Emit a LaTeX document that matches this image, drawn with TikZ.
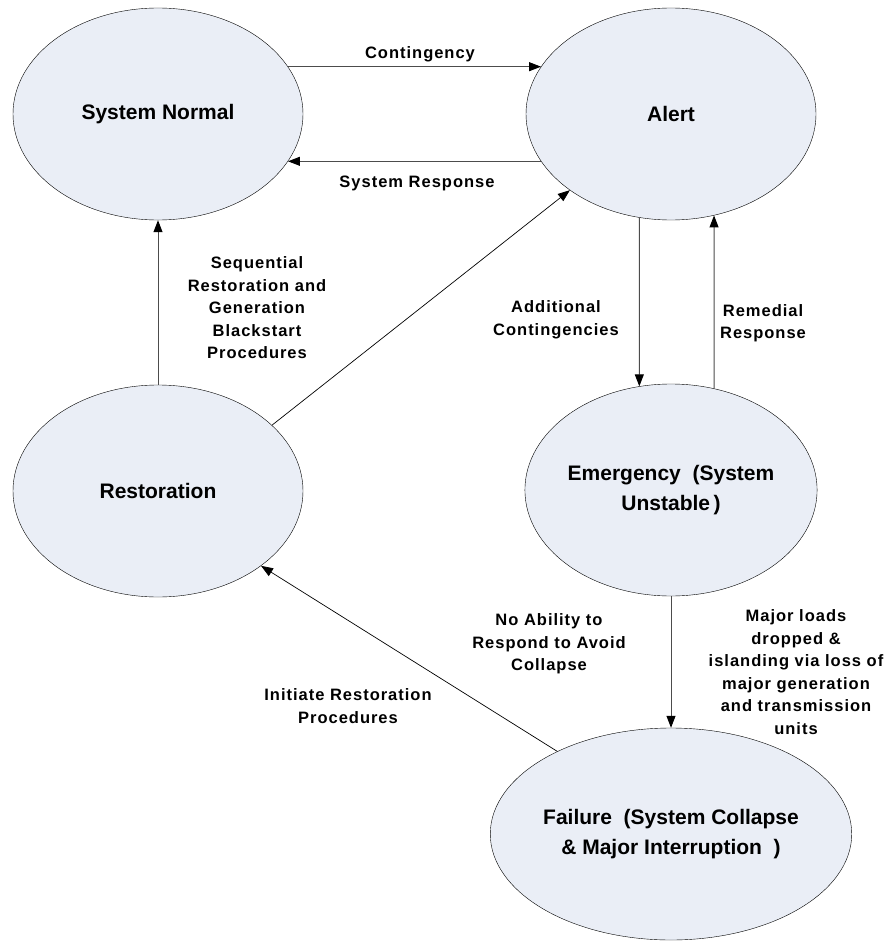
\documentclass[tikz,border=0pt]{standalone}
\usepackage{fontspec}
\setmainfont{Liberation Sans}
\newfontfamily\lblfont[LetterSpace=6]{Liberation Sans}
\usetikzlibrary{arrows.meta, shapes.geometric}
\definecolor{statefill}{RGB}{234,238,246}

\begin{document}
\begin{tikzpicture}[
  x=1pt, y=-1pt,
  state/.style={draw, ellipse, fill=statefill, minimum width=290pt, minimum height=212pt, inner sep=0pt, align=center, font=\fontsize{21}{30}\selectfont\bfseries},
  lbl/.style={align=center, font=\lblfont\fontsize{16.5}{22.5}\selectfont\bfseries},
  arrow/.style={-{Triangle[width=9pt,length=12pt,color=black]}, line width=1pt, draw=black!70},
  diag/.style={line width=0.7pt, draw=black}
]
\useasboundingbox (0,0) rectangle (883,941);

% States
\node[state] (normal) at (158,114) {System Normal};
\node[state] (alert) at (671,114) {Alert};
\node[state] (restore) at (158,491) {Restoration};
\node[state] (emerg) at (671,490) {Emergency\ \ (System\\Unstable\,)};
\node[state] (fail) at (671,834) {Failure\ \ (System Collapse\\\& Major Interruption\ \ )};

% Transitions
\draw[arrow] (normal.20) -- (alert.160);
\draw[arrow] (alert.200) -- (normal.-20);
\draw[arrow] (alert.-107.7) -- (emerg.107.7);
\draw[arrow] (emerg.67.5) -- (alert.-67.5);
\draw[arrow] (restore) -- (normal);
\draw[arrow, diag] (restore.30.5) -- (alert.217.7);
\draw[arrow] (emerg) -- (fail);
\draw[arrow, diag] (fail.144.7) -- (restore.-36.4);

% Labels
\node[lbl] (lblcont) at (420,54) {Contingency};
\node[lbl] (lblresp) at (417,183) {System Response};
\node[lbl] (lblseq) at (257,308) {Sequential\\Restoration and\\Generation\\Blackstart\\Procedures};
\node[lbl] (lbladd) at (556,320) {Additional\\Contingencies};
\node[lbl] (lblrem) at (763,323) {Remedial\\Response};
\node[lbl] (lblnoab) at (549,644) {No Ability to\\Respond to Avoid\\Collapse};
\node[lbl] (lblmajor) at (796,672) {Major loads\\dropped \&\\islanding via loss of\\major generation\\and transmission\\units};
\node[lbl] (lblinit) at (348,706) {Initiate Restoration\\Procedures};
\end{tikzpicture}
\end{document}
